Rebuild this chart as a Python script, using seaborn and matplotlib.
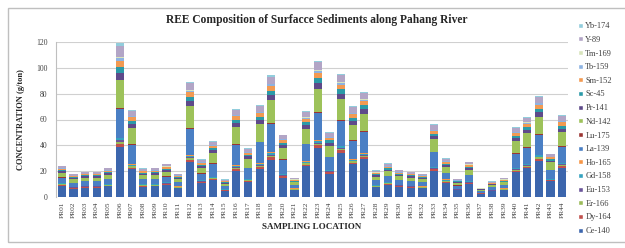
import numpy as np
import matplotlib
matplotlib.use("Agg")
import matplotlib.pyplot as plt
import seaborn as sns
from matplotlib.patches import Patch, Rectangle

# sampling locations
locations = ["PR%02d" % i for i in range(1, 45)]

# element concentrations (g/ton), bottom to top
ce_140 = [8.9, 6.5, 7.2, 7.2, 8.3, 39.0, 21.5, 8.1, 8.3, 9.4, 6.7, 27.0, 10.7, 13.3, 5.0, 20.5, 11.6, 22.0, 29.0, 14.9, 5.4, 23.8,
          37.8, 18.0, 34.2, 25.2, 29.2, 7.6, 9.6, 7.8, 7.2, 6.7, 20.2, 11.1, 5.2, 10.0, 2.6, 4.4, 5.4, 19.4, 22.3, 28.1, 12.1, 22.7]
dy_164 = [0.5, 0.35, 0.4, 0.4, 0.45, 2.4, 1.3, 0.45, 0.45, 0.5, 0.35, 1.8, 0.6, 0.9, 0.27, 1.4, 0.75, 1.4, 1.9, 1.0, 0.3, 1.3,
          2.1, 1.0, 1.9, 1.4, 1.6, 0.4, 0.5, 0.4, 0.4, 0.35, 1.1, 0.6, 0.3, 0.55, 0.15, 0.25, 0.3, 1.1, 1.2, 1.6, 0.7, 1.3]
er_166 = [0.5, 0.35, 0.4, 0.4, 0.45, 1.5, 0.9, 0.45, 0.45, 0.5, 0.35, 1.2, 0.6, 0.55, 0.27, 0.9, 0.5, 0.9, 1.2, 0.6, 0.3, 0.85,
          1.4, 0.65, 1.2, 0.9, 1.05, 0.4, 0.5, 0.4, 0.4, 0.35, 0.7, 0.6, 0.3, 0.55, 0.15, 0.25, 0.3, 0.7, 0.8, 1.0, 0.45, 0.8]
eu_153 = [0.36, 0.26, 0.29, 0.29, 0.34, 1.0, 0.54, 0.33, 0.34, 0.38, 0.27, 0.71, 0.44, 0.34, 0.2, 0.55, 0.3, 0.57, 0.74, 0.38, 0.22, 0.53,
          0.84, 0.4, 0.76, 0.56, 0.65, 0.31, 0.39, 0.32, 0.29, 0.27, 0.45, 0.45, 0.21, 0.41, 0.11, 0.18, 0.22, 0.43, 0.5, 0.62, 0.27, 0.5]
gd_158 = [0.48, 0.35, 0.39, 0.39, 0.45, 1.4, 0.8, 0.44, 0.45, 0.51, 0.36, 1.07, 0.58, 0.52, 0.27, 0.83, 0.45, 0.85, 1.12, 0.58, 0.29, 0.79,
          1.26, 0.6, 1.14, 0.84, 0.97, 0.41, 0.52, 0.42, 0.39, 0.36, 0.67, 0.6, 0.28, 0.54, 0.14, 0.24, 0.29, 0.65, 0.74, 0.94, 0.4, 0.76]
ho_165 = [0.24, 0.18, 0.2, 0.2, 0.23, 0.7, 0.4, 0.22, 0.23, 0.26, 0.18, 0.53, 0.29, 0.26, 0.14, 0.41, 0.23, 0.43, 0.56, 0.29, 0.15, 0.4,
          0.63, 0.3, 0.57, 0.42, 0.49, 0.21, 0.26, 0.21, 0.2, 0.18, 0.34, 0.3, 0.14, 0.27, 0.07, 0.12, 0.15, 0.32, 0.37, 0.47, 0.2, 0.38]
la_139 = [4.1, 3.0, 3.3, 3.3, 3.8, 22.0, 15.0, 3.7, 3.8, 4.3, 3.1, 20.5, 4.9, 9.9, 2.3, 15.9, 8.6, 16.3, 22.0, 11.0, 2.5, 13.2,
          21.0, 10.0, 19.0, 14.0, 16.2, 3.5, 4.4, 3.6, 3.3, 3.1, 11.2, 5.1, 2.4, 4.6, 1.2, 2.0, 2.5, 10.8, 12.4, 15.6, 6.7, 12.6]
lu_175 = [0.17, 0.12, 0.14, 0.14, 0.16, 0.8, 0.47, 0.15, 0.16, 0.18, 0.13, 0.62, 0.2, 0.3, 0.09, 0.48, 0.26, 0.5, 0.65, 0.34, 0.1, 0.46,
          0.74, 0.35, 0.67, 0.49, 0.57, 0.14, 0.18, 0.15, 0.14, 0.13, 0.39, 0.21, 0.1, 0.19, 0.05, 0.08, 0.1, 0.38, 0.43, 0.55, 0.23, 0.44]
nd_142 = [3.4, 2.5, 2.7, 2.7, 3.2, 22.0, 12.7, 3.1, 3.2, 3.6, 2.5, 16.9, 4.1, 8.2, 1.9, 13.1, 7.1, 13.5, 17.7, 9.1, 2.0, 11.2,
          17.9, 8.5, 16.2, 11.9, 13.8, 2.9, 3.6, 2.9, 2.7, 2.5, 9.5, 4.2, 2.0, 3.8, 1.0, 1.7, 2.0, 9.2, 10.5, 13.3, 5.7, 10.7]
pr_141 = [1.2, 0.88, 0.98, 0.98, 1.1, 5.2, 3.0, 1.1, 1.1, 1.3, 0.9, 4.0, 1.45, 1.9, 0.68, 3.1, 1.7, 3.2, 4.2, 2.2, 0.73, 3.0,
          4.7, 2.25, 4.3, 3.15, 3.6, 1.0, 1.3, 1.05, 0.98, 0.9, 2.5, 1.5, 0.7, 1.35, 0.35, 0.6, 0.73, 2.4, 2.8, 3.5, 1.5, 2.8]
sc_45 = [0.96, 0.7, 0.78, 0.78, 0.9, 4.5, 2.3, 0.88, 0.9, 1.0, 0.72, 3.1, 1.16, 1.5, 0.54, 2.4, 1.3, 2.5, 3.3, 1.7, 0.58, 2.3,
         3.7, 1.75, 3.3, 2.45, 2.8, 0.82, 1.04, 0.84, 0.78, 0.72, 2.0, 1.2, 0.56, 1.08, 0.28, 0.48, 0.58, 1.9, 2.2, 2.7, 1.2, 2.2]
sm_152 = [0.96, 0.7, 0.78, 0.78, 0.9, 5.0, 2.7, 0.88, 0.9, 1.0, 0.72, 3.6, 1.16, 1.7, 0.54, 2.8, 1.5, 2.8, 3.7, 1.9, 0.58, 2.6,
          4.2, 2.0, 3.8, 2.8, 3.2, 0.82, 1.04, 0.84, 0.78, 0.72, 2.2, 1.2, 0.56, 1.08, 0.28, 0.48, 0.58, 2.2, 2.5, 3.1, 1.3, 2.5]
tb_159 = [0.5, 0.36, 0.4, 0.38, 0.46, 1.8, 0.82, 0.43, 0.46, 0.5, 0.37, 1.1, 0.57, 0.53, 0.28, 0.85, 0.44, 0.86, 1.1, 0.6, 0.3, 0.8,
          1.3, 0.62, 1.15, 0.83, 0.95, 0.42, 0.5, 0.43, 0.4, 0.37, 0.68, 0.58, 0.29, 0.55, 0.15, 0.25, 0.3, 0.66, 0.75, 0.92, 0.41, 0.78]
tm_169 = [0.24, 0.18, 0.2, 0.2, 0.23, 0.8, 0.34, 0.22, 0.23, 0.26, 0.18, 0.45, 0.29, 0.22, 0.14, 0.35, 0.19, 0.36, 0.47, 0.24, 0.15, 0.33,
          0.53, 0.25, 0.48, 0.35, 0.41, 0.21, 0.26, 0.21, 0.2, 0.18, 0.28, 0.3, 0.14, 0.27, 0.07, 0.12, 0.15, 0.27, 0.31, 0.39, 0.17, 0.32]
y_89 = [1.44, 1.05, 1.17, 1.17, 1.35, 9.0, 4.0, 1.32, 1.35, 1.53, 1.08, 5.3, 1.74, 2.6, 0.81, 4.1, 2.25, 4.3, 5.6, 2.9, 0.87, 4.0,
        6.3, 3.0, 5.7, 4.2, 4.9, 1.23, 1.56, 1.26, 1.17, 1.08, 3.4, 1.8, 0.84, 1.62, 0.42, 0.72, 0.87, 3.2, 3.7, 4.7, 2.0, 3.8]
yb_174 = [0.36, 0.26, 0.29, 0.29, 0.34, 1.9, 0.67, 0.33, 0.34, 0.38, 0.27, 0.89, 0.44, 0.43, 0.2, 0.69, 0.38, 0.71, 0.93, 0.48, 0.22, 0.66,
          1.05, 0.5, 0.95, 0.7, 0.81, 0.31, 0.39, 0.32, 0.29, 0.27, 0.56, 0.45, 0.21, 0.41, 0.11, 0.18, 0.22, 0.54, 0.62, 0.78, 0.34, 0.63]

elements = ["Ce-140", "Dy-164", "Er-166", "Eu-153", "Gd-158", "Ho-165", "La-139", "Lu-175",
            "Nd-142", "Pr-141", "Sc-45", "Sm-152", "Tb-159", "Tm-169", "Y-89", "Yb-174"]
series = [ce_140, dy_164, er_166, eu_153, gd_158, ho_165, la_139, lu_175,
          nd_142, pr_141, sc_45, sm_152, tb_159, tm_169, y_89, yb_174]
colors = ["#3c66ad", "#c0504d", "#9bbb59", "#6b559a", "#35a2bf", "#f79646", "#4a7fc4", "#9b3532",
          "#9dc25a", "#5e4a8a", "#2b9aa8", "#f29a52", "#8db3e2", "#d8e4bc", "#b2a5c6", "#92cddc"]

sns.set_theme(style="white")
plt.rcParams["font.family"] = ["Liberation Serif", "DejaVu Serif"]

fig = plt.figure(figsize=(6.25, 2.48), dpi=100)
ax = fig.add_axes([56 / 625, 1 - 197 / 248, 512 / 625, 155 / 248])

bottom = np.zeros(len(locations))
for name, vals, col in zip(elements, series, colors):
    sns.barplot(x=locations, y=vals, bottom=bottom, color=col, width=0.7,
                saturation=1, linewidth=0, edgecolor="none", ax=ax, zorder=3)
    bottom = bottom + np.array(vals)

ax.set_ylim(0, 120)
ax.set_xlim(-0.5, len(locations) - 0.5)
ax.set_yticks(range(0, 121, 20))
ax.yaxis.grid(True, color="#d0d0d0", linewidth=0.8, zorder=0)
ax.set_axisbelow(True)
for side in ["top", "right", "bottom"]:
    ax.spines[side].set_visible(False)
ax.spines["left"].set_color("#bfbfbf")
ax.spines["left"].set_linewidth(0.8)
ax.tick_params(axis="x", labelrotation=90, labelsize=5.3, colors="#404040", length=0, pad=3)
ax.tick_params(axis="y", labelsize=5.5, colors="#404040", length=0, pad=6)
ax.set_xlabel("SAMPLING LOCATION", fontsize=6.5, fontweight="bold", color="#262626", labelpad=4)
ax.set_ylabel("CONCENTRATION (g/ton)", fontsize=6, fontweight="bold", color="#262626", labelpad=8)

fig.text(317 / 625, 1 - 20 / 248, "REE Composition of Surfacce Sediments along Pahang River",
         ha="center", va="center", fontsize=8.3, fontweight="bold", color="#262626")

handles = [Patch(facecolor=c, label=n) for n, c in zip(elements, colors)][::-1]
fig.legend(handles=handles, loc="upper left", bbox_to_anchor=(574 / 625, 1 - 18 / 248),
           frameon=False, fontsize=6, handlelength=0.55, handleheight=0.55,
           handletextpad=0.3, labelspacing=0.68, borderpad=0, labelcolor="#404040")

fig.patches.append(Rectangle((8 / 625, 1 - 242 / 248), 640 / 625, 234 / 248, transform=fig.transFigure,
                             fill=False, edgecolor="#bfbfbf", linewidth=1))

fig.savefig("out.png", dpi=100)
